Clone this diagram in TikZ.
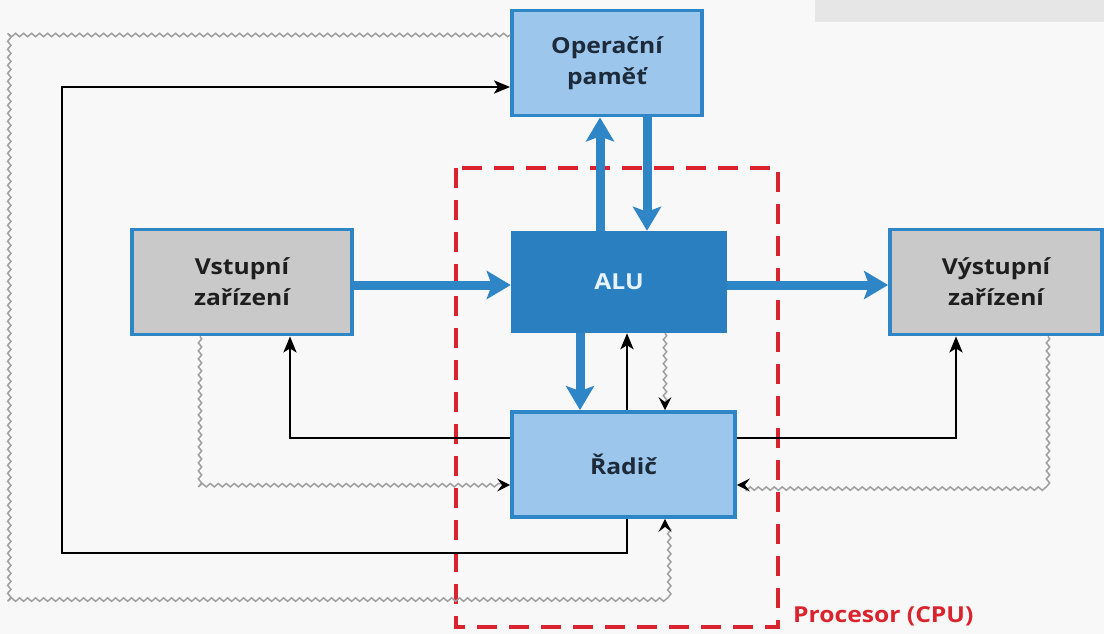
\documentclass[tikz,border=0pt]{standalone}
\usepackage{fontspec}
\setmainfont{Open Sans}[FakeStretch=1.12]
\usetikzlibrary{arrows.meta,decorations.pathmorphing}
\definecolor{bg}{HTML}{F8F8F8}
\definecolor{lightblue}{HTML}{9CC6EC}
\definecolor{boxline}{HTML}{2F86C6}
\definecolor{alublue}{HTML}{2A7FC0}
\definecolor{greyfill}{HTML}{C9C9C9}
\definecolor{txt}{HTML}{1C2A3A}
\definecolor{greytxt}{HTML}{1E1E1E}
\definecolor{alutxt}{HTML}{E6F3FB}
\definecolor{cpured}{HTML}{D9232D}
\definecolor{wavegrey}{HTML}{A0A0A0}
\definecolor{topgrey}{HTML}{E6E6E6}
\begin{document}
\begin{tikzpicture}[x=1pt,y=-1pt,
  blockbox/.style={draw=boxline, line width=3.8pt, fill=lightblue, inner sep=0pt,
    align=center, text=txt, font=\fontsize{22}{31}\selectfont\bfseries},
  iobox/.style={blockbox, fill=greyfill, text=greytxt},
  alubox/.style={fill=alublue, inner sep=0pt, text=alutxt, font=\fontsize{22}{31}\selectfont\bfseries},
  bluearrow/.style={draw=boxline, line width=9pt, -{Stealth[length=24pt,width=28pt,inset=5pt]}},
  blkarrow/.style={draw=black, line width=2.8pt, -{Stealth[length=16pt,width=13pt,inset=4pt]}},
  wavy/.style={draw=wavegrey, line width=1.5pt, decorate,
    decoration={snake, amplitude=1.7pt, segment length=8pt, post length=4pt},
    -{Stealth[black,length=13pt,width=13pt,inset=5pt]}},
  cpubox/.style={draw=cpured, line width=4pt, dash pattern=on 20pt off 12pt}
]
\useasboundingbox (0,0) rectangle (1104,634);
\fill[bg] (0,0) rectangle (1104,634);
\fill[topgrey] (815,0) rectangle (1104,22);

% processor boundary
\draw[cpubox] (456,168) rectangle (778,627);
\node[anchor=west, text=cpured, font=\fontsize{22}{26}\selectfont\bfseries, inner sep=0pt] (cpu) at (793,616) {Procesor (CPU)};

% blocks
\node[blockbox, minimum width=190pt, minimum height=105pt] (mem) at (607,63) {Operační\\paměť};
\node[iobox, minimum width=220pt, minimum height=105pt] (in) at (242,282) {Vstupní\\zařízení};
\node[alubox, minimum width=216pt, minimum height=102pt] (alu) at (619,282) {ALU};
\node[iobox, minimum width=212pt, minimum height=105pt] (out) at (996,282) {Výstupní\\zařízení};
\node[blockbox, minimum width=223pt, minimum height=105pt] (ctrl) at (623.5,464.5) {Řadič};

% grey wavy control/status lines
\draw[wavy] (mem.west |- 0,35) -- (8,35) -- (8,603) -- (665,603) -- (ctrl.south -| 665,0);
\draw[wavy] (in.south -| 200,0) -- (200,485) -- (ctrl.west |- 0,485);
\draw[wavy] (out.south -| 1048,0) -- (1048,485) -- (ctrl.east |- 0,485);
\draw[wavy] (alu.south -| 665,0) -- (ctrl.north -| 665,0);

% black control lines
\draw[blkarrow] (ctrl.north -| 627,0) -- (alu.south -| 627,0);
\draw[blkarrow] (ctrl.west |- 0,438) -| (in.south -| 290,0);
\draw[blkarrow] (ctrl.east |- 0,438) -| (out.south -| 956,0);
\draw[blkarrow] (ctrl.south -| 627,0) -- (627,553) -| (62,87) -- (mem.west |- 0,87);

% blue data paths
\draw[bluearrow] (in.east |- 0,285) -- (alu.west |- 0,285);
\draw[bluearrow] (alu.east |- 0,285) -- (out.west |- 0,285);
\draw[bluearrow] (alu.north -| 600,0) -- (mem.south -| 600,0);
\draw[bluearrow] (mem.south -| 647,0) -- (alu.north -| 647,0);
\draw[bluearrow] (alu.south -| 580,0) -- (ctrl.north -| 580,0);
\end{tikzpicture}
\end{document}
